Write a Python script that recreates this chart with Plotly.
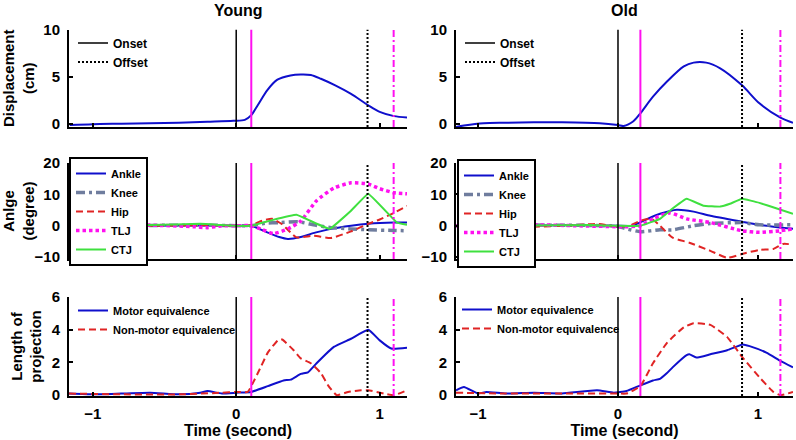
import plotly.graph_objects as go

# ---------------- data ----------------
# Row 1: displacement (cm)
young_disp_t = [-1.16, -1.0, -0.8, -0.6, -0.4, -0.2, -0.02, 0.06, 0.105, 0.15, 0.217, 0.287, 0.378, 0.45, 0.52, 0.59, 0.69, 0.80, 0.92, 1.0, 1.1, 1.19]
young_disp_v = [-0.1, 0.0, 0.05, 0.1, 0.15, 0.25, 0.35, 0.45, 0.95, 2.0, 3.6, 4.7, 5.15, 5.25, 5.2, 4.8, 4.1, 3.2, 2.0, 1.3, 0.85, 0.7]
old_disp_t = [-1.157, -1.1, -0.96, -0.8, -0.6, -0.4, -0.13, 0.0, 0.04, 0.11, 0.16, 0.25, 0.35, 0.47, 0.54, 0.63, 0.73, 0.886, 1.01, 1.16, 1.25]
old_disp_v = [-0.3, -0.15, 0.1, 0.15, 0.2, 0.2, 0.1, -0.1, -0.2, 0.3, 1.15, 2.9, 4.5, 6.1, 6.5, 6.5, 5.9, 4.1, 2.2, 0.7, 0.15]

# Row 2: joint angles (degree)
young_ankle_t = [-1.165, -0.6, -0.2, 0.0, 0.105, 0.2, 0.3, 0.36, 0.45, 0.55, 0.66, 0.8, 0.92, 1.1, 1.19]
young_ankle_v = [0, 0, 0.1, 0, 0, -1.8, -3.6, -4.2, -3.6, -2.2, -1.0, 0, 0.6, 1.0, 1.0]
young_knee_t = [-1.165, -0.6, -0.2, 0.0, 0.105, 0.2, 0.3, 0.43, 0.55, 0.66, 0.8, 0.92, 1.1, 1.19]
young_knee_v = [0, 0.1, 0.2, 0, 0, 0.8, 1.0, 1.3, 0.2, -0.6, -1.0, -1.3, -1.5, -1.6]
young_hip_t = [-1.165, -0.6, -0.2, 0.0, 0.1, 0.18, 0.25, 0.32, 0.42, 0.54, 0.66, 0.8, 0.92, 1.0, 1.1, 1.19]
young_hip_v = [0, 0, 0.2, 0, 0.2, 1.6, 2.2, 0.5, -3.7, -3.2, -3.9, -1.8, 0.6, 2.0, 4.1, 6.3]
young_tlj_t = [-1.165, -0.6, -0.3, -0.2, -0.1, 0.0, 0.105, 0.18, 0.26, 0.36, 0.45, 0.56, 0.68, 0.8, 0.92, 1.0, 1.1, 1.19]
young_tlj_v = [0, 0.2, -0.3, -0.6, 0, 0, 0, -1.2, -2.5, -1.0, 1.5, 8, 12, 13.7, 13.3, 11.8, 10.5, 10.2]
young_ctj_t = [-1.165, -0.6, -0.25, -0.1, 0.0, 0.105, 0.25, 0.42, 0.52, 0.65, 0.8, 0.92, 1.12, 1.19]
young_ctj_v = [0, 0.2, 0.6, 0.2, 0, 0, 1.8, 3.5, 1.5, -1.0, 4.8, 10.2, 1.0, 0.3]

old_ankle_t = [-1.157, -0.6, -0.2, 0.0, 0.1, 0.21, 0.3, 0.42, 0.54, 0.66, 0.886, 1.01, 1.25]
old_ankle_v = [0, 0.1, 0.2, 0, 0, 2.2, 3.8, 5.1, 4.5, 3.2, 1.3, 0.3, -1.0]
old_knee_t = [-1.157, -0.6, -0.2, 0.0, 0.06, 0.16, 0.3, 0.39, 0.54, 0.66, 0.886, 1.01, 1.25]
old_knee_v = [0, 0.2, 0.1, -0.2, -1.0, -1.9, -1.3, -1.3, 0, 0.7, 1.0, 0.3, 0.3]
old_hip_t = [-1.157, -0.6, -0.3, -0.15, 0.0, 0.08, 0.16, 0.24, 0.3, 0.39, 0.51, 0.66, 0.78, 0.886, 1.01, 1.11, 1.18, 1.25]
old_hip_v = [0, -0.3, 0.2, 0.6, -0.3, 0, 1.6, 2.2, 0, -3.8, -5.4, -8, -10.2, -9, -7.7, -7.4, -5.8, -6]
old_tlj_t = [-1.157, -0.6, -0.3, 0.0, 0.06, 0.16, 0.25, 0.37, 0.49, 0.66, 0.886, 1.01, 1.16, 1.25]
old_tlj_v = [0, 0.3, 0, -0.3, -0.3, 0, 2.2, 4.1, 2.2, 1.0, -1.6, -2.1, -1.6, -1.0]
old_ctj_t = [-1.157, -0.6, -0.2, 0.0, 0.16, 0.3, 0.37, 0.49, 0.61, 0.73, 0.8, 0.886, 1.01, 1.14, 1.25]
old_ctj_v = [0, 0.1, 0.2, 0, 0, 2.2, 4.8, 8.6, 6.4, 6.1, 7.0, 8.6, 7.3, 5.4, 3.8]

# Row 3: length of projection
young_me_t = [-1.165, -1.0, -0.8, -0.6, -0.4, -0.25, -0.2, -0.1, 0.0, 0.105, 0.22, 0.33, 0.38, 0.45, 0.5, 0.56, 0.68, 0.8, 0.92, 1.0, 1.08, 1.19]
young_me_v = [0.1, 0.05, 0.1, 0.15, 0.05, 0.15, 0.25, 0.1, 0.15, 0.2, 0.55, 0.9, 0.95, 1.3, 1.4, 1.95, 2.95, 3.45, 4.0, 3.35, 2.85, 2.9]
young_nme_t = [-1.165, -0.8, -0.4, -0.1, 0.0, 0.08, 0.105, 0.17, 0.22, 0.29, 0.32, 0.4, 0.45, 0.52, 0.59, 0.64, 0.7, 0.78, 0.87, 0.92, 1.03, 1.1, 1.19]
young_nme_v = [0.1, 0.05, 0.05, 0.15, 0.2, 0.2, 0.55, 1.7, 2.6, 3.35, 3.4, 2.75, 2.25, 1.95, 1.35, 0.6, 0.0, 0.2, 0.3, 0.3, 0.1, 0.0, 0.3]
old_me_t = [-1.157, -1.1, -1.0, -0.94, -0.8, -0.6, -0.4, -0.15, -0.03, 0.06, 0.16, 0.25, 0.3, 0.35, 0.39, 0.49, 0.51, 0.56, 0.66, 0.78, 0.89, 0.94, 1.06, 1.16, 1.25]
old_me_v = [0.3, 0.5, 0.1, 0.2, 0.1, 0.15, 0.1, 0.3, 0.15, 0.25, 0.6, 0.9, 1.0, 1.35, 1.7, 2.45, 2.5, 2.3, 2.5, 2.75, 3.1, 3.0, 2.6, 2.1, 1.7]
old_nme_t = [-1.157, -0.8, -0.4, 0.0, 0.06, 0.11, 0.16, 0.25, 0.35, 0.47, 0.54, 0.66, 0.78, 0.89, 1.01, 1.11, 1.16, 1.25]
old_nme_v = [0.15, 0.1, 0.1, 0.1, 0.1, 0.3, 0.55, 1.95, 3.2, 4.15, 4.4, 4.3, 3.55, 2.3, 1.1, 0.2, 0.0, 0.2]

# event times (s): onset, first magenta, offset, second magenta
young_events = [0.0, 0.105, 0.915, 1.097]
old_events = [0.0, 0.16, 0.886, 1.16]

group_titles = ["Young", "Old"]
row_ytitles = ["Displacement<br>(cm)", "Anlge<br>(degree)", "Length of<br>projection"]
row_yranges = [[-0.3, 10], [-10.6, 20], [-0.05, 6]]
row_yticks = [[0, 5, 10], [-10, 0, 10, 20], [0, 2, 4, 6]]
col_xranges = [[-1.165, 1.19], [-1.157, 1.25]]
x_ticks = [-1, 0, 1]
x_title = "Time (second)"
joint_names = ["Ankle", "Knee", "Hip", "TLJ", "CTJ"]
proj_names = ["Motor equivalence", "Non-motor equivalence"]

# ---------------- styling / layout geometry ----------------
FONT = "Liberation Sans, Arial, Helvetica, sans-serif"
BLUE = "#0F0FCC"
RED = "#E02424"
MAG = "#FF10F0"
GREEN = "#3FE03F"
KNEE = "#6F7D9E"

W, H = 796, 440
ML, MR, MT, MB = 69, 3, 29, 44
PW, PH = W - ML - MR, H - MT - MB


def fx(px):
    return (px - ML) / PW


def fy(py):
    return (H - MB - py) / PH


x_domains = [[fx(69), fx(407)], [fx(456), fx(793)]]
y_domains = [[fy(127), fy(29.5)], [fy(259), fy(163)], [fy(396), fy(297)]]

joint_styles = [
    dict(color=BLUE, width=2, dash="solid", smooth=0.5),
    dict(color=KNEE, width=3.5, dash="9px,4px,3px,4px", smooth=0.5),
    dict(color=RED, width=2, dash="7px,4px", smooth=0.5),
    dict(color=MAG, width=3.5, dash="3.5px,3px", smooth=0.5),
    dict(color=GREEN, width=2, dash="solid", smooth=0.2),
]

fig = go.Figure()

data_by_col = [
    dict(disp=(young_disp_t, young_disp_v),
         joints=[(young_ankle_t, young_ankle_v), (young_knee_t, young_knee_v), (young_hip_t, young_hip_v),
                 (young_tlj_t, young_tlj_v), (young_ctj_t, young_ctj_v)],
         proj=[(young_me_t, young_me_v), (young_nme_t, young_nme_v)],
         events=young_events),
    dict(disp=(old_disp_t, old_disp_v),
         joints=[(old_ankle_t, old_ankle_v), (old_knee_t, old_knee_v), (old_hip_t, old_hip_v),
                 (old_tlj_t, old_tlj_v), (old_ctj_t, old_ctj_v)],
         proj=[(old_me_t, old_me_v), (old_nme_t, old_nme_v)],
         events=old_events),
]


def ax_ids(r, c):
    i = r * 2 + c + 1
    s = "" if i == 1 else str(i)
    return "x" + s, "y" + s, ("legend" if i == 1 else "legend" + str(i))


for c in range(2):
    d = data_by_col[c]
    # row 1
    xa, ya, lg = ax_ids(0, c)
    fig.add_trace(go.Scatter(x=d["disp"][0], y=d["disp"][1], mode="lines", xaxis=xa, yaxis=ya,
                             line=dict(color=BLUE, width=2, shape="spline", smoothing=0.8),
                             showlegend=False, hoverinfo="skip"))
    # row 2
    xa, ya, lg = ax_ids(1, c)
    for (tt, vv), nm, st in zip(d["joints"], joint_names, joint_styles):
        fig.add_trace(go.Scatter(x=tt, y=vv, mode="lines", xaxis=xa, yaxis=ya, name=nm,
                                 line=dict(color=st["color"], width=st["width"], dash=st["dash"],
                                           shape="spline", smoothing=st["smooth"]),
                                 legend=lg, showlegend=True))
    # row 3
    xa, ya, lg = ax_ids(2, c)
    proj_styles = [dict(color=BLUE, width=2, dash="solid"), dict(color=RED, width=2, dash="7px,4px")]
    for (tt, vv), nm, st in zip(d["proj"], proj_names, proj_styles):
        fig.add_trace(go.Scatter(x=tt, y=vv, mode="lines", xaxis=xa, yaxis=ya, name=nm,
                                 line=dict(color=st["color"], width=st["width"], dash=st["dash"],
                                           shape="spline", smoothing=0.4),
                                 legend=lg, showlegend=True))
    # vertical event lines in every row
    ev = d["events"]
    for r in range(3):
        xa, ya, lg = ax_ids(r, c)
        y0, y1 = row_yranges[r]
        lines = [
            (ev[0], dict(color="black", width=1.5, dash="solid"), "Onset"),
            (ev[2], dict(color="black", width=2, dash="2px,2px"), "Offset"),
            (ev[1], dict(color=MAG, width=2, dash="solid"), None),
            (ev[3], dict(color=MAG, width=2, dash="7px,3px,2px,3px"), None),
        ]
        for xv, ls, nm in lines:
            show = (r == 0 and nm is not None)
            fig.add_trace(go.Scatter(x=[xv, xv], y=[y0, y1], mode="lines", xaxis=xa, yaxis=ya,
                                     line=ls, name=nm if nm else "", legend=lg,
                                     showlegend=show, hoverinfo="skip"))

layout = dict(
    width=W, height=H,
    margin=dict(l=ML, r=MR, t=MT, b=MB, autoexpand=False),
    paper_bgcolor="white", plot_bgcolor="white",
    font=dict(family=FONT, color="black", size=14),
)

tickfont = dict(family=FONT, size=15, color="black", weight="bold")
titlefont = dict(family=FONT, size=15, color="black", weight="bold")

for r in range(3):
    for c in range(2):
        i = r * 2 + c + 1
        s = "" if i == 1 else str(i)
        layout["xaxis" + s] = dict(
            domain=x_domains[c], anchor="y" + s, range=col_xranges[c], automargin=False,
            showline=True, linecolor="black", linewidth=2, mirror=False,
            ticks="inside", ticklen=4, tickwidth=2, tickcolor="black",
            tickvals=x_ticks, showticklabels=(r == 2), tickfont=tickfont,
            ticklabelstandoff=3,
            showgrid=False, zeroline=False,
            title=dict(text=x_title if r == 2 else "", font=dict(family=FONT, size=16, color="black", weight="bold"),
                       standoff=2),
        )
        layout["yaxis" + s] = dict(
            domain=y_domains[r], anchor="x" + s, range=row_yranges[r], automargin=False,
            showline=True, linecolor="black", linewidth=2, mirror=False,
            ticks="inside", ticklen=4, tickwidth=2, tickcolor="black",
            tickvals=row_yticks[r], tickfont=tickfont, ticklabelstandoff=4,
            showgrid=False, zeroline=False,
            title=dict(text=row_ytitles[r] if c == 0 else "", font=titlefont, standoff=6),
        )

# legends
leg_lines = dict(bgcolor="rgba(0,0,0,0)", borderwidth=0, xanchor="left", yanchor="top",
                 font=dict(family=FONT, size=12, color="black", weight="bold"), itemwidth=30)
layout["legend"] = dict(leg_lines, x=fx(73), y=fy(28.5))
layout["legend2"] = dict(leg_lines, x=fx(460), y=fy(28.5))
leg_box = dict(bgcolor="white", bordercolor="black", borderwidth=2, xanchor="left", yanchor="top",
               font=dict(family=FONT, size=11, color="black", weight="bold"), itemwidth=30)
layout["legend3"] = dict(leg_box, x=fx(69), y=fy(157))
layout["legend4"] = dict(leg_box, x=fx(457), y=fy(159))
leg_proj = dict(bgcolor="rgba(0,0,0,0)", borderwidth=0, xanchor="left", yanchor="top",
                font=dict(family=FONT, size=11, color="black", weight="bold"), itemwidth=30)
layout["legend5"] = dict(leg_proj, x=fx(73), y=fy(296))
layout["legend6"] = dict(leg_proj, x=fx(457), y=fy(295))

layout["annotations"] = [
    dict(text=group_titles[c], x=sum(x_domains[c]) / 2, y=fy(11), xref="paper", yref="paper",
         xanchor="center", yanchor="middle", showarrow=False,
         font=dict(family=FONT, size=16, color="black", weight="bold"))
    for c in range(2)
]

fig.update_layout(**layout)
fig.write_html("out.html",
               config={"displayModeBar": False},
               post_script="document.body.style.margin='0';document.body.style.padding='0';")
